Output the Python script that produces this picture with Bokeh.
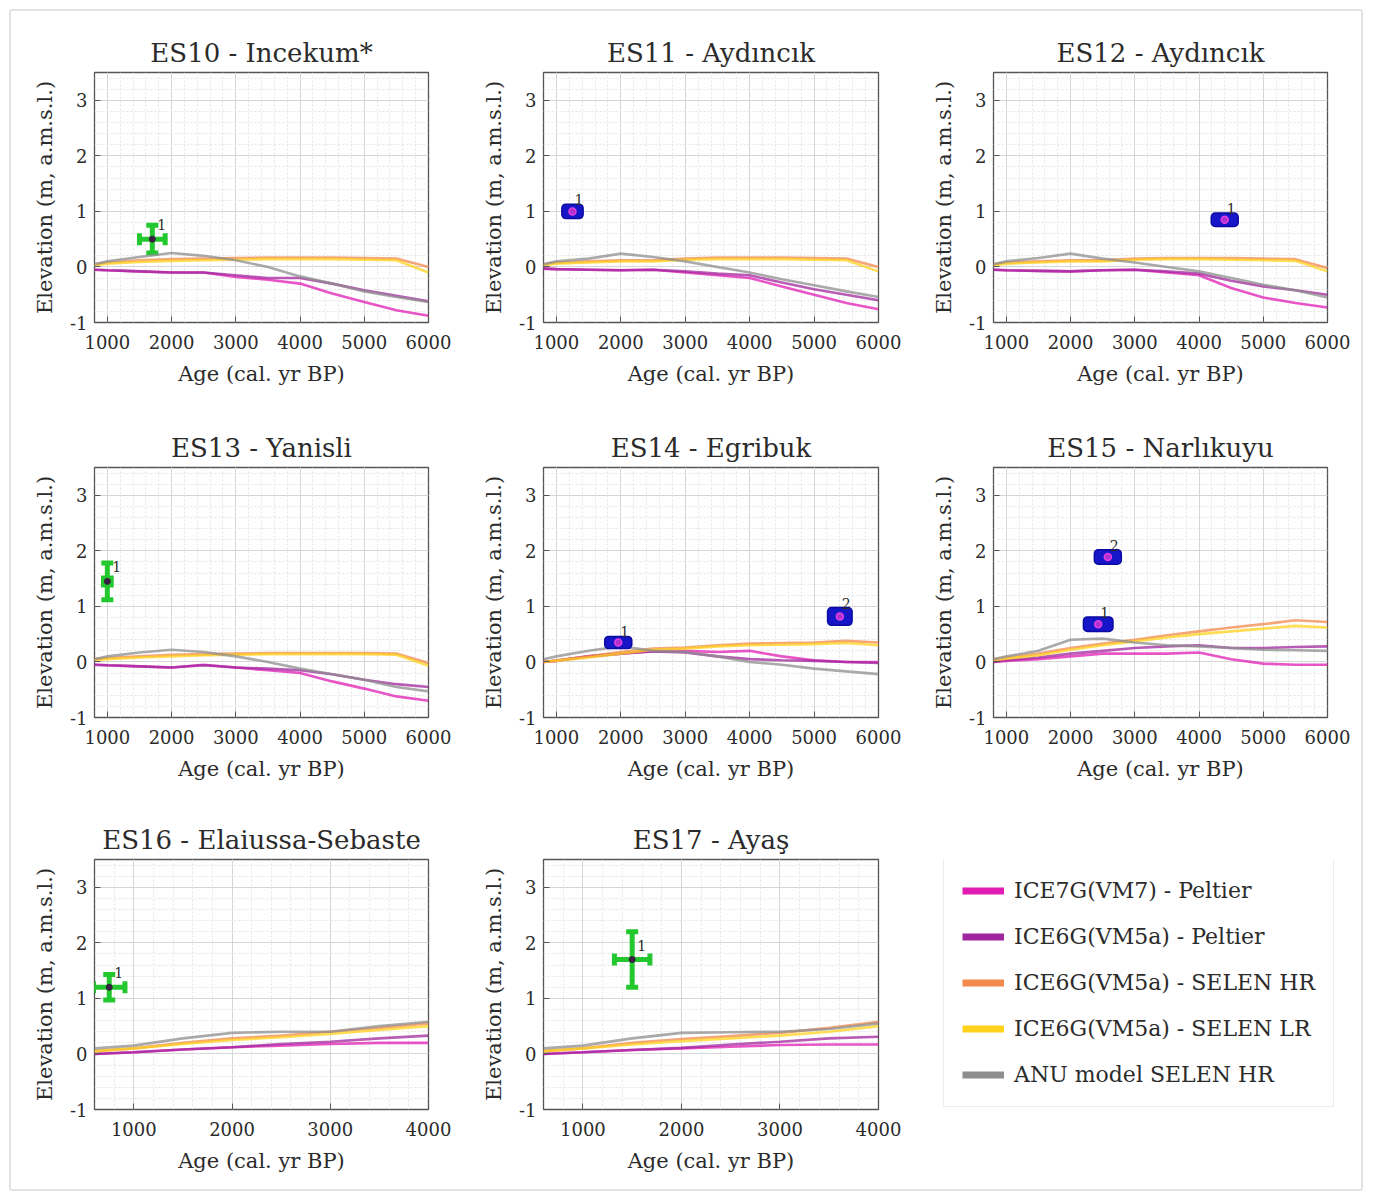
from bokeh.plotting import figure
from bokeh.models import (ColumnDataSource, Whisker, TeeHead, Legend, LegendItem,
                          SingleIntervalTicker, Range1d)
from bokeh.layouts import row, column
from bokeh.embed import file_html
from bokeh.resources import INLINE

# ---------------- data ----------------
MODELS = ["ICE7G(VM7) - Peltier", "ICE6G(VM5a) - Peltier", "ICE6G(VM5a) - SELEN HR",
          "ICE6G(VM5a) - SELEN LR", "ANU model SELEN HR"]

AGE_6K = [800, 1000, 1500, 2000, 2500, 3000, 3500, 4000, 4500, 5000, 5500, 6000]
AGE_4K = [600, 1000, 1500, 2000, 2500, 3000, 3500, 4000]

# ES10 - Incekum*
ES10_ICE7G = [-0.05, -0.06, -0.08, -0.10, -0.10, -0.18, -0.23, -0.30, -0.48, -0.63, -0.78, -0.88]
ES10_ICE6G = [-0.05, -0.06, -0.08, -0.10, -0.10, -0.15, -0.20, -0.20, -0.30, -0.42, -0.52, -0.62]
ES10_HR = [0.05, 0.08, 0.12, 0.14, 0.15, 0.16, 0.17, 0.17, 0.17, 0.16, 0.15, 0.00]
ES10_LR = [0.03, 0.06, 0.09, 0.11, 0.12, 0.13, 0.14, 0.14, 0.14, 0.13, 0.12, -0.10]
ES10_ANU = [0.05, 0.10, 0.18, 0.25, 0.20, 0.12, 0.00, -0.17, -0.30, -0.44, -0.54, -0.63]
# ES11 - Aydıncık
ES11_ICE7G = [-0.03, -0.04, -0.05, -0.06, -0.05, -0.10, -0.15, -0.20, -0.35, -0.50, -0.65, -0.76]
ES11_ICE6G = [-0.03, -0.04, -0.05, -0.06, -0.05, -0.08, -0.12, -0.15, -0.28, -0.40, -0.50, -0.60]
ES11_HR = [0.05, 0.08, 0.10, 0.12, 0.12, 0.15, 0.17, 0.17, 0.17, 0.16, 0.15, 0.00]
ES11_LR = [0.03, 0.06, 0.08, 0.10, 0.10, 0.13, 0.14, 0.14, 0.14, 0.13, 0.12, -0.08]
ES11_ANU = [0.05, 0.10, 0.15, 0.24, 0.18, 0.10, 0.00, -0.10, -0.22, -0.33, -0.44, -0.54]
# ES12 - Aydıncık
ES12_ICE7G = [-0.05, -0.06, -0.07, -0.08, -0.06, -0.05, -0.10, -0.15, -0.38, -0.55, -0.65, -0.73]
ES12_ICE6G = [-0.05, -0.06, -0.07, -0.08, -0.06, -0.05, -0.08, -0.12, -0.25, -0.35, -0.42, -0.50]
ES12_HR = [0.05, 0.08, 0.10, 0.12, 0.12, 0.15, 0.16, 0.16, 0.16, 0.15, 0.14, -0.02]
ES12_LR = [0.03, 0.06, 0.08, 0.10, 0.10, 0.13, 0.14, 0.14, 0.13, 0.12, 0.11, -0.08]
ES12_ANU = [0.05, 0.10, 0.16, 0.24, 0.15, 0.08, 0.00, -0.08, -0.20, -0.32, -0.42, -0.55]
# ES13 - Yanisli
ES13_ICE7G = [-0.05, -0.06, -0.08, -0.10, -0.05, -0.10, -0.15, -0.20, -0.35, -0.48, -0.62, -0.70]
ES13_ICE6G = [-0.05, -0.06, -0.08, -0.10, -0.06, -0.10, -0.12, -0.15, -0.22, -0.32, -0.40, -0.45]
ES13_HR = [0.05, 0.07, 0.10, 0.13, 0.14, 0.15, 0.16, 0.16, 0.16, 0.16, 0.15, -0.02]
ES13_LR = [0.03, 0.05, 0.08, 0.10, 0.12, 0.13, 0.14, 0.14, 0.14, 0.14, 0.13, -0.07]
ES13_ANU = [0.05, 0.10, 0.17, 0.22, 0.18, 0.10, 0.00, -0.12, -0.22, -0.32, -0.45, -0.53]
# ES14 - Egribuk
ES14_ICE7G = [0.00, 0.02, 0.10, 0.15, 0.20, 0.20, 0.18, 0.20, 0.10, 0.03, 0.00, 0.00]
ES14_ICE6G = [0.00, 0.02, 0.10, 0.15, 0.19, 0.17, 0.10, 0.05, 0.03, 0.02, 0.00, -0.02]
ES14_HR = [0.00, 0.03, 0.10, 0.18, 0.24, 0.26, 0.30, 0.33, 0.34, 0.35, 0.38, 0.35]
ES14_LR = [0.00, 0.02, 0.08, 0.15, 0.22, 0.24, 0.28, 0.30, 0.31, 0.32, 0.34, 0.30]
ES14_ANU = [0.05, 0.10, 0.20, 0.28, 0.20, 0.18, 0.10, 0.00, -0.05, -0.12, -0.17, -0.22]
# ES15 - Narlıkuyu
ES15_ICE7G = [0.00, 0.02, 0.05, 0.10, 0.15, 0.15, 0.15, 0.17, 0.05, -0.03, -0.05, -0.05]
ES15_ICE6G = [0.00, 0.03, 0.08, 0.15, 0.20, 0.25, 0.28, 0.30, 0.25, 0.25, 0.27, 0.28]
ES15_HR = [0.05, 0.08, 0.15, 0.25, 0.33, 0.40, 0.48, 0.55, 0.62, 0.68, 0.75, 0.72]
ES15_LR = [0.03, 0.06, 0.12, 0.22, 0.30, 0.37, 0.44, 0.50, 0.55, 0.60, 0.65, 0.62]
ES15_ANU = [0.05, 0.10, 0.20, 0.40, 0.42, 0.35, 0.30, 0.28, 0.25, 0.22, 0.21, 0.20]
# ES16 - Elaiussa-Sebaste
ES16_ICE7G = [0.00, 0.03, 0.08, 0.12, 0.15, 0.18, 0.20, 0.20]
ES16_ICE6G = [0.00, 0.03, 0.08, 0.12, 0.18, 0.22, 0.28, 0.33]
ES16_HR = [0.05, 0.10, 0.20, 0.28, 0.33, 0.40, 0.47, 0.55]
ES16_LR = [0.05, 0.10, 0.18, 0.25, 0.30, 0.36, 0.43, 0.50]
ES16_ANU = [0.10, 0.15, 0.28, 0.38, 0.40, 0.40, 0.50, 0.58]
# ES17 - Ayaş
ES17_ICE7G = [0.00, 0.03, 0.07, 0.10, 0.13, 0.16, 0.17, 0.17]
ES17_ICE6G = [0.00, 0.03, 0.07, 0.11, 0.17, 0.22, 0.28, 0.31]
ES17_HR = [0.05, 0.10, 0.20, 0.27, 0.32, 0.38, 0.47, 0.58]
ES17_LR = [0.05, 0.10, 0.17, 0.23, 0.28, 0.33, 0.40, 0.50]
ES17_ANU = [0.10, 0.15, 0.28, 0.38, 0.39, 0.40, 0.45, 0.55]

# observations: age, elevation, age error, elevation error, label
ES10_OBS_AGE, ES10_OBS_ELEV, ES10_OBS_AERR, ES10_OBS_EERR, ES10_OBS_ID = [1700], [0.50], [200], [0.25], ["1"]
ES11_OBS_AGE, ES11_OBS_ELEV, ES11_OBS_AERR, ES11_OBS_EERR, ES11_OBS_ID = [1250], [1.00], [165], [0.13], ["1"]
ES12_OBS_AGE, ES12_OBS_ELEV, ES12_OBS_AERR, ES12_OBS_EERR, ES12_OBS_ID = [4400], [0.85], [210], [0.12], ["1"]
ES13_OBS_AGE, ES13_OBS_ELEV, ES13_OBS_AERR, ES13_OBS_EERR, ES13_OBS_ID = [1000], [1.45], [60], [0.33], ["1"]
ES14_OBS_AGE, ES14_OBS_ELEV, ES14_OBS_AERR, ES14_OBS_EERR, ES14_OBS_ID = [1960, 5400], [0.35, 0.82], [210, 190], [0.11, 0.16], ["1", "2"]
ES15_OBS_AGE, ES15_OBS_ELEV, ES15_OBS_AERR, ES15_OBS_EERR, ES15_OBS_ID = [2430, 2580], [0.68, 1.89], [230, 210], [0.13, 0.13], ["1", "2"]
ES16_OBS_AGE, ES16_OBS_ELEV, ES16_OBS_AERR, ES16_OBS_EERR, ES16_OBS_ID = [750], [1.20], [160], [0.23], ["1"]
ES17_OBS_AGE, ES17_OBS_ELEV, ES17_OBS_AERR, ES17_OBS_EERR, ES17_OBS_ID = [1500], [1.70], [180], [0.50], ["1"]

TITLES = ["ES10 - Incekum*", "ES11 - Aydıncık", "ES12 - Aydıncık", "ES13 - Yanisli",
          "ES14 - Egribuk", "ES15 - Narlıkuyu", "ES16 - Elaiussa-Sebaste", "ES17 - Ayaş"]
X_LABEL = "Age (cal. yr BP)"
Y_LABEL = "Elevation (m, a.m.s.l.)"

# ---------------- styles ----------------
FONT = "DejaVu Serif"
TXT = "#2b2b2b"
COLORS = ["#E01CB4", "#A0269E", "#F28A4C", "#FFD21C", "#8E8E8E"]
GREEN = "#22C82E"
BLUE = "#1616C8"

panels = [
    (TITLES[0], AGE_6K, [ES10_ICE7G, ES10_ICE6G, ES10_HR, ES10_LR, ES10_ANU],
     (ES10_OBS_AGE, ES10_OBS_ELEV, ES10_OBS_AERR, ES10_OBS_EERR, ES10_OBS_ID), "cross"),
    (TITLES[1], AGE_6K, [ES11_ICE7G, ES11_ICE6G, ES11_HR, ES11_LR, ES11_ANU],
     (ES11_OBS_AGE, ES11_OBS_ELEV, ES11_OBS_AERR, ES11_OBS_EERR, ES11_OBS_ID), "box"),
    (TITLES[2], AGE_6K, [ES12_ICE7G, ES12_ICE6G, ES12_HR, ES12_LR, ES12_ANU],
     (ES12_OBS_AGE, ES12_OBS_ELEV, ES12_OBS_AERR, ES12_OBS_EERR, ES12_OBS_ID), "box"),
    (TITLES[3], AGE_6K, [ES13_ICE7G, ES13_ICE6G, ES13_HR, ES13_LR, ES13_ANU],
     (ES13_OBS_AGE, ES13_OBS_ELEV, ES13_OBS_AERR, ES13_OBS_EERR, ES13_OBS_ID), "cross"),
    (TITLES[4], AGE_6K, [ES14_ICE7G, ES14_ICE6G, ES14_HR, ES14_LR, ES14_ANU],
     (ES14_OBS_AGE, ES14_OBS_ELEV, ES14_OBS_AERR, ES14_OBS_EERR, ES14_OBS_ID), "box"),
    (TITLES[5], AGE_6K, [ES15_ICE7G, ES15_ICE6G, ES15_HR, ES15_LR, ES15_ANU],
     (ES15_OBS_AGE, ES15_OBS_ELEV, ES15_OBS_AERR, ES15_OBS_EERR, ES15_OBS_ID), "box"),
    (TITLES[6], AGE_4K, [ES16_ICE7G, ES16_ICE6G, ES16_HR, ES16_LR, ES16_ANU],
     (ES16_OBS_AGE, ES16_OBS_ELEV, ES16_OBS_AERR, ES16_OBS_EERR, ES16_OBS_ID), "cross"),
    (TITLES[7], AGE_4K, [ES17_ICE7G, ES17_ICE6G, ES17_HR, ES17_LR, ES17_ANU],
     (ES17_OBS_AGE, ES17_OBS_ELEV, ES17_OBS_AERR, ES17_OBS_EERR, ES17_OBS_ID), "cross"),
]

COLS = [(450, 83, 33), (450, 82, 33), (450, 82, 34)]
ROWS = [(390, 61, 79), (395, 66, 79), (393, 63, 80)]


def make_panel(idx, spec):
    title, ages, curves, obs, kind = spec
    r, c = divmod(idx, 3)
    w, ml, mr = COLS[c]
    h, mt, mb = ROWS[r]
    p = figure(width=w, height=h, x_range=Range1d(ages[0], ages[-1]), y_range=Range1d(-1, 3.5),
               output_backend="svg", toolbar_location=None,
               min_border_left=ml, min_border_right=mr, min_border_top=mt, min_border_bottom=mb,
               background_fill_color="white", border_fill_color="white")
    p.title.text = title
    p.title.align = "center"
    p.title.text_font = FONT
    p.title.text_font_size = "26px"
    p.title.text_font_style = "normal"
    p.title.text_color = TXT
    p.title.standoff = 10

    p.xaxis.ticker = SingleIntervalTicker(interval=1000, num_minor_ticks=5)
    p.yaxis.ticker = SingleIntervalTicker(interval=1, num_minor_ticks=5)
    p.yaxis.major_label_overrides = {-1: "-1"}
    p.xaxis.axis_label = X_LABEL
    p.yaxis.axis_label = Y_LABEL
    for ax in (p.xaxis, p.yaxis):
        ax.axis_label_text_font = FONT
        ax.axis_label_text_font_size = "21px"
        ax.axis_label_text_font_style = "normal"
        ax.axis_label_text_color = TXT
        ax.major_label_text_font = FONT
        ax.major_label_text_font_size = "18px"
        ax.major_label_text_color = TXT
        ax.major_tick_in = 6
        ax.major_tick_out = 0
        ax.minor_tick_in = 0
        ax.minor_tick_out = 0
        ax.major_tick_line_color = "#555555"
        ax.axis_line_color = None
    p.xaxis.major_label_standoff = 12
    p.xaxis.axis_label_standoff = 10
    p.yaxis.major_label_standoff = 7
    p.yaxis.axis_label_standoff = 10

    for g in (p.xgrid, p.ygrid):
        g.grid_line_color = "#d6d6d6"
        g.grid_line_width = 1
        g.minor_grid_line_color = "#e4e4e4"
        g.minor_grid_line_dash = "2 2"
    p.outline_line_color = "#555555"
    p.outline_line_width = 1.3

    for vals, col in zip(curves, COLORS):
        p.line(ages, vals, line_color=col, line_width=2.6, line_alpha=0.75)

    oa, oe, oae, oee, oid = obs
    src = ColumnDataSource(dict(
        x=oa, y=oe, xerr=[2 * v for v in oae], yerr=[2 * v for v in oee],
        xlo=[a - d for a, d in zip(oa, oae)], xhi=[a + d for a, d in zip(oa, oae)],
        ylo=[e - d for e, d in zip(oe, oee)], yhi=[e + d for e, d in zip(oe, oee)],
        lab=oid))
    if kind == "cross":
        for dim, lo, hi, base in (("height", "ylo", "yhi", "x"), ("width", "xlo", "xhi", "y")):
            wk = Whisker(source=src, base=base, lower=lo, upper=hi, dimension=dim,
                         line_color=GREEN, line_width=5,
                         upper_head=TeeHead(size=12, line_color=GREEN, line_width=5),
                         lower_head=TeeHead(size=12, line_color=GREEN, line_width=5))
            p.add_layout(wk)
        p.scatter("x", "y", source=src, size=6, color="#3a2040")
        p.text("x", "y", text="lab", source=src, x_offset=5, y_offset=-9,
               text_font_size="14px", text_color=TXT, text_baseline="bottom", text_align="left",
               text_font={"value": FONT})
    else:
        p.rect("x", "y", width="xerr", height="yerr", source=src, fill_color=BLUE,
               line_color="#0a0aa0", line_width=1.5, border_radius=4)
        p.scatter("x", "y", source=src, marker="circle", size=7, fill_color="#B030D0",
                  line_color="#E040E0", line_width=1.5)
        p.text("x", "yhi", text="lab", source=src, x_offset=2, y_offset=1,
               text_font_size="14px", text_color=TXT, text_baseline="bottom", text_align="left",
               text_font={"value": FONT})
    return p


figs = [make_panel(i, s) for i, s in enumerate(panels)]

# legend panel (its frame is aligned with the neighbouring frames of the row)
lw, _, _ = COLS[2]
lh, _, _ = ROWS[2]
leg = figure(width=lw, height=lh, x_axis_type=None, y_axis_type=None, x_range=Range1d(0, 1),
             y_range=Range1d(0, 1), output_backend="svg", toolbar_location=None,
             min_border=0, outline_line_color=None)
items = []
for name, col in zip(MODELS, COLORS):
    rr = leg.line([-10, -9], [-10, -9], line_color=col, line_width=7)
    items.append(LegendItem(label=name, renderers=[rr]))
legend = Legend(items=items, location=(32, 2), padding=18, spacing=19,
                label_height=27, glyph_height=27, glyph_width=42, label_standoff=10,
                label_width=300, label_text_font=FONT, label_text_font_size="22px",
                label_text_color=TXT, border_line_color="#dcdcdc", border_line_width=1.5,
                background_fill_color="white", background_fill_alpha=1.0)
leg.add_layout(legend)

layout = column(row(figs[0], figs[1], figs[2]), row(figs[3], figs[4], figs[5]),
                row(figs[6], figs[7], leg),
                styles={"border": "2px solid #e2e2e2", "border-radius": "3px",
                        "margin-left": "9px", "margin-top": "9px"})

open("out.html", "w").write(file_html(layout, INLINE))
